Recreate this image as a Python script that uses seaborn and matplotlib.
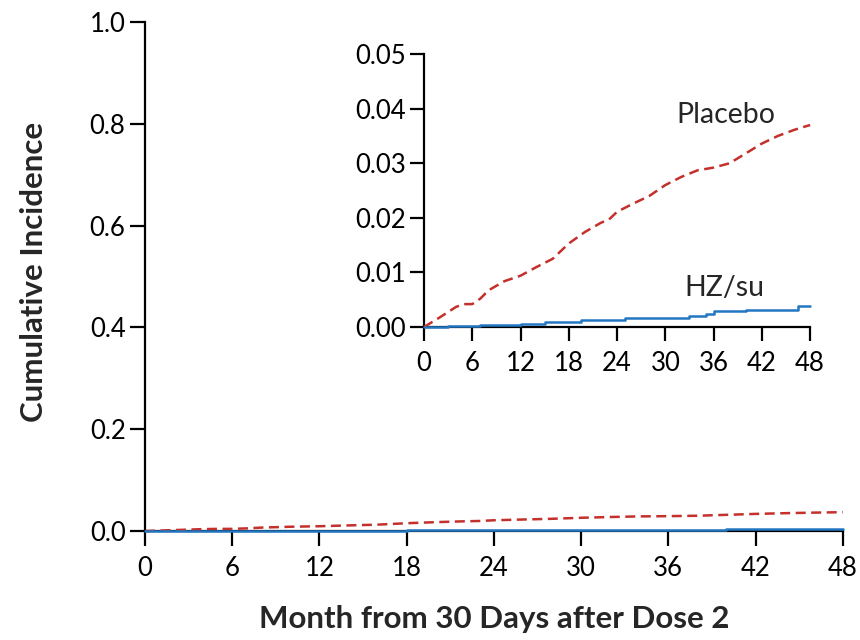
import numpy as np
import pandas as pd
import seaborn as sns
import matplotlib.pyplot as plt

# valores (incidência cumulativa por mês)
meses_placebo = [0, 2, 4, 5, 6, 7, 8, 10, 12, 14, 16, 18, 20, 22, 23, 24, 26, 28, 30, 32, 34, 36, 38, 40, 42, 44, 46, 48]
inc_placebo = [0.0, 0.0018, 0.0037, 0.0042, 0.0042, 0.0052, 0.0067, 0.0084, 0.0094, 0.0110, 0.0125, 0.0153,
               0.0174, 0.0191, 0.0197, 0.0211, 0.0226, 0.0240, 0.0260, 0.0275, 0.0287, 0.0292, 0.0300,
               0.0318, 0.0336, 0.0350, 0.0361, 0.0370]

meses_hz = [0, 3, 7, 12, 15, 18, 19.5, 25, 32, 33, 35, 36, 40, 45, 46.5, 48]
inc_hz = [0.0, 0.0001, 0.0003, 0.0005, 0.0009, 0.0010, 0.0012, 0.0017, 0.0017, 0.0021, 0.0024, 0.0029,
          0.0031, 0.0032, 0.0038, 0.0038]

xticks = np.arange(0, 49, 6)
cor_placebo = '#c4302c'
cor_hz = '#2277c2'

df_p = pd.DataFrame({'mes': meses_placebo, 'inc': inc_placebo})
df_h = pd.DataFrame({'mes': meses_hz, 'inc': inc_hz})

sns.set_style('white')
plt.rcParams['font.family'] = ['Lato', 'DejaVu Sans']

fig = plt.figure(figsize=(8.6, 6.4), dpi=100)
ax = fig.add_axes([0.1686, 0.1703, 0.8114, 0.7953])
ins = fig.add_axes([0.493, 0.489, 0.449, 0.4266])


def desenha(a, lw, ticklen):
    sns.lineplot(data=df_p, x='mes', y='inc', ax=a, color=cor_placebo, lw=lw,
                 linestyle=(0, (4, 2.2)), zorder=3, clip_on=False)
    sns.lineplot(data=df_h, x='mes', y='inc', ax=a, color=cor_hz, lw=lw,
                 drawstyle='steps-post', zorder=3, clip_on=False)
    a.set_xlim(0, 48)
    a.set_xticks(xticks)
    for s in ['top', 'right']:
        a.spines[s].set_visible(False)
    for s in ['left', 'bottom']:
        a.spines[s].set_linewidth(1.6)
        a.spines[s].set_color('black')
    a.tick_params(direction='out', length=ticklen, width=1.6, labelsize=18.5, colors='black',
                  left=True, bottom=True)
    a.tick_params(axis='y', pad=3)
    a.tick_params(axis='x', pad=7)
    a.set_xlabel('')
    a.set_ylabel('')


desenha(ax, 1.8, 11)
ax.set_ylim(0, 1.0)
ax.set_yticks(np.arange(0, 1.01, 0.2))
ax.set_yticklabels(['{:.1f}'.format(v) for v in np.arange(0, 1.01, 0.2)])
ax.set_xlabel('Month from 30 Days after Dose 2', fontsize=22.5, fontweight='bold')
ax.set_ylabel('Cumulative Incidence', fontsize=22.5, fontweight='bold')
ax.xaxis.set_label_coords(0.501, -0.145)
ax.yaxis.set_label_coords(-0.139, 0.509)

desenha(ins, 1.8, 10)
ins.set_ylim(0, 0.05)
ins.set_yticks(np.arange(0, 0.051, 0.01))
ins.set_yticklabels(['{:.2f}'.format(v) for v in np.arange(0, 0.051, 0.01)])
ins.text(31.4, 0.0388, 'Placebo', fontsize=20.5, va='center', ha='left')
ins.text(32.4, 0.0071, 'HZ/su', fontsize=20.5, va='center', ha='left')

fig.savefig('out.png', dpi=100)
